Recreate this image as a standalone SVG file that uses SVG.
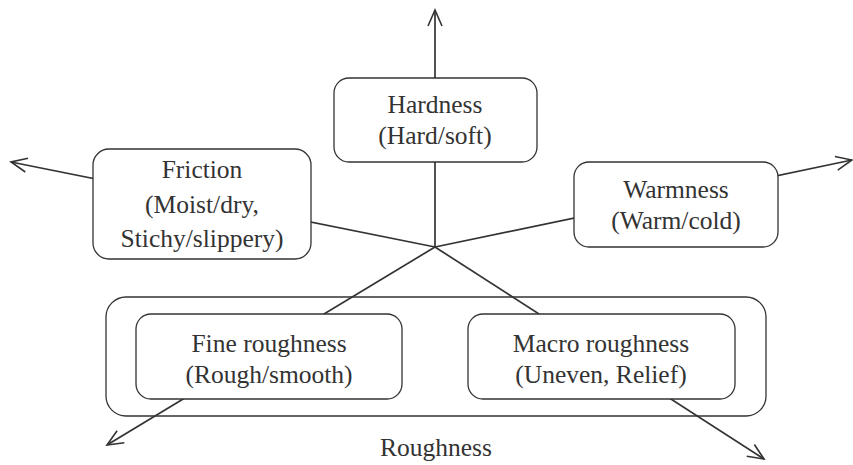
<svg xmlns="http://www.w3.org/2000/svg" width="853" height="465" viewBox="0 0 853 465">
  <defs>
    <marker id="arrow" markerUnits="userSpaceOnUse" markerWidth="30" markerHeight="30" viewBox="-20 -15 30 30" refX="0" refY="0" orient="auto" overflow="visible">
      <path d="M-16,-7 L0,0 L-16,7" fill="none" stroke="#333" stroke-width="1.6"/>
    </marker>
  </defs>
  <style>
    .axis { stroke: #333; stroke-width: 1.7; fill: none; marker-end: url(#arrow); }
    .box { fill: #fff; stroke: #333; stroke-width: 1.3; }
    .group { fill: none; stroke: #333; stroke-width: 1.3; }
    text { font-family: "Liberation Serif", "Times New Roman", serif; font-size: 25.5px; fill: #333; text-anchor: middle; }
  </style>
  <rect width="853" height="465" fill="#fff"/>

  <!-- Roughness grouping frame -->
  <g id="roughness">
    <rect class="group" x="106" y="297" width="660" height="119" rx="20"/>
    <text x="436" y="456">Roughness</text>
  </g>

  <!-- Five axes radiating from the common origin -->
  <g id="axes">
    <line class="axis" x1="435" y1="247" x2="435" y2="10"/>
    <line class="axis" x1="435" y1="247" x2="11" y2="162"/>
    <line class="axis" x1="435" y1="247" x2="852" y2="160"/>
    <line class="axis" x1="435" y1="247" x2="107" y2="445"/>
    <line class="axis" x1="435" y1="247" x2="764" y2="459"/>
  </g>

  <g id="hardness">
    <rect class="box" x="334" y="78" width="203" height="84" rx="15"/>
    <text x="435" y="113">Hardness</text>
    <text x="435" y="144">(Hard/soft)</text>
  </g>

  <g id="friction">
    <rect class="box" x="93" y="149" width="218" height="110" rx="16"/>
    <text x="202" y="178">Friction</text>
    <text x="202" y="213">(Moist/dry,</text>
    <text x="202" y="247">Stichy/slippery)</text>
  </g>

  <g id="warmness">
    <rect class="box" x="574" y="162" width="204" height="85" rx="15"/>
    <text x="676" y="198">Warmness</text>
    <text x="676" y="229">(Warm/cold)</text>
  </g>

  <g id="fine-roughness">
    <rect class="box" x="136" y="314" width="266" height="85" rx="15"/>
    <text x="269" y="352">Fine roughness</text>
    <text x="269" y="383">(Rough/smooth)</text>
  </g>

  <g id="macro-roughness">
    <rect class="box" x="468" y="314" width="267" height="85" rx="15"/>
    <text x="601" y="352">Macro roughness</text>
    <text x="601" y="383">(Uneven, Relief)</text>
  </g>
</svg>
